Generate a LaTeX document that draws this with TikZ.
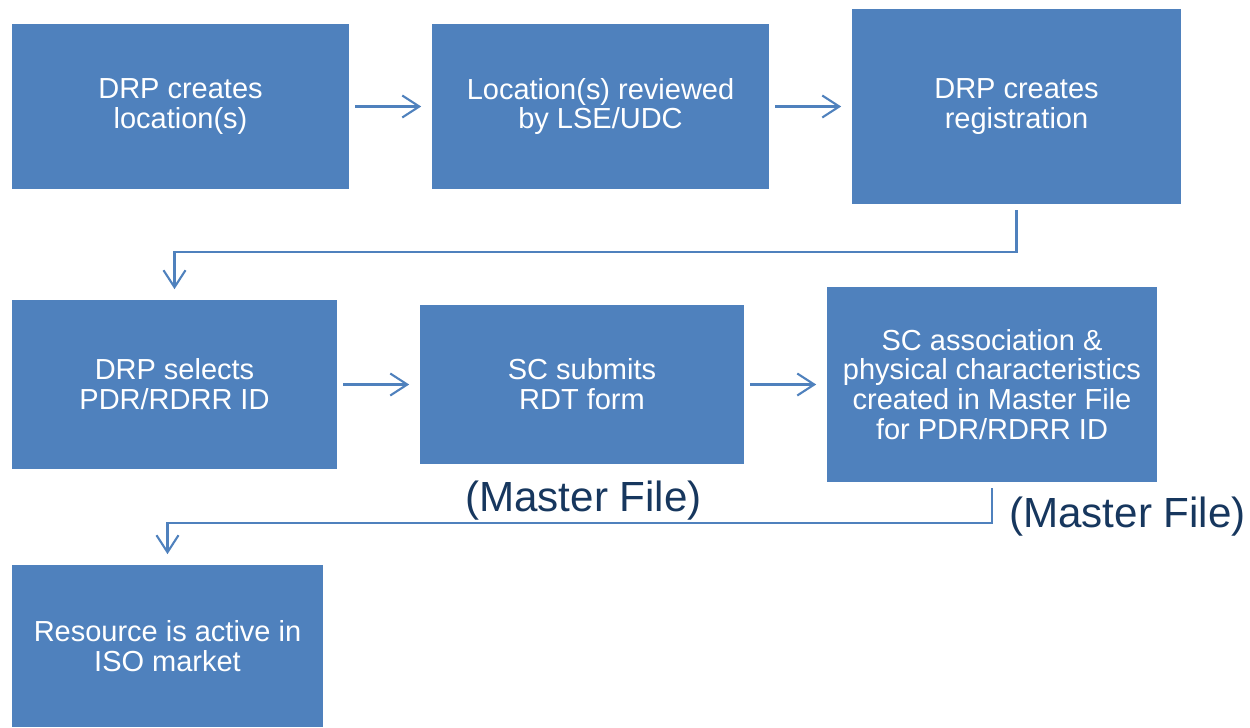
\documentclass[tikz,border=0pt]{standalone}
\usepackage{fontspec}
\setmainfont{Liberation Sans}
\usetikzlibrary{arrows.meta}
\definecolor{boxblue}{HTML}{4F81BD}
\definecolor{navy}{HTML}{17375E}
\begin{document}
\begin{tikzpicture}[x=0.02cm,y=-0.02cm,
	every path/.style={>={Straight Barb[length=0.34cm,width=0.44cm]}},
	stepbox/.style={rectangle,fill=boxblue,text=white,inner sep=0pt,align=center,
		font=\fontsize{16.5}{17}\selectfont},
	flow/.style={->,draw=boxblue,line width=1.2pt,shorten <=0.12cm,shorten >=0.21cm},
	mflabel/.style={text=navy,font=\fontsize{24}{26}\selectfont}]
	\useasboundingbox (0,0) rectangle (1250,727);

	% first row
	\node (loc) at (180.5,106.5) [stepbox,minimum width=6.74cm,minimum height=3.3cm] {DRP creates\\location(s)};
	\node (rev) at (600.5,106.5) [stepbox,minimum width=6.74cm,minimum height=3.3cm] {Location(s) reviewed\\by LSE/UDC};
	\node (reg) at (1016.5,106.5) [stepbox,minimum width=6.58cm,minimum height=3.9cm] {DRP creates\\registration};

	% second row
	\node (sel) at (174.5,384.5) [stepbox,minimum width=6.5cm,minimum height=3.38cm] {DRP selects\\PDR/RDRR ID};
	\node (rdt) at (582,384.5) [stepbox,minimum width=6.48cm,minimum height=3.18cm] {SC submits\\RDT form};
	\node (assoc) at (992,384.5) [stepbox,minimum width=6.6cm,minimum height=3.9cm] {SC association \&\\physical characteristics\\created in Master File\\for PDR/RDRR ID};

	% last row
	\node (active) at (167.5,646) [stepbox,minimum width=6.22cm,minimum height=3.24cm] {Resource is active in\\ISO market};

	% master file notes
	\node (mf1) at (583.5,501) [mflabel] {(Master File)};
	\node (mf2) at (1127.5,517) [mflabel] {(Master File)};

	% arrows between boxes
	\draw[flow] (loc) -- (rev);
	\draw[flow] (rev) -- (reg);
	\draw[flow] (sel) -- (rdt);
	\draw[flow] (rdt) -- (assoc);

	% elbow arrows to the next row
	\draw[flow] (reg.south) -- ++(0,48) -| (sel.north);
	\draw[flow] (assoc.south) -- ++(0,41) -| (active.north);
\end{tikzpicture}
\end{document}
